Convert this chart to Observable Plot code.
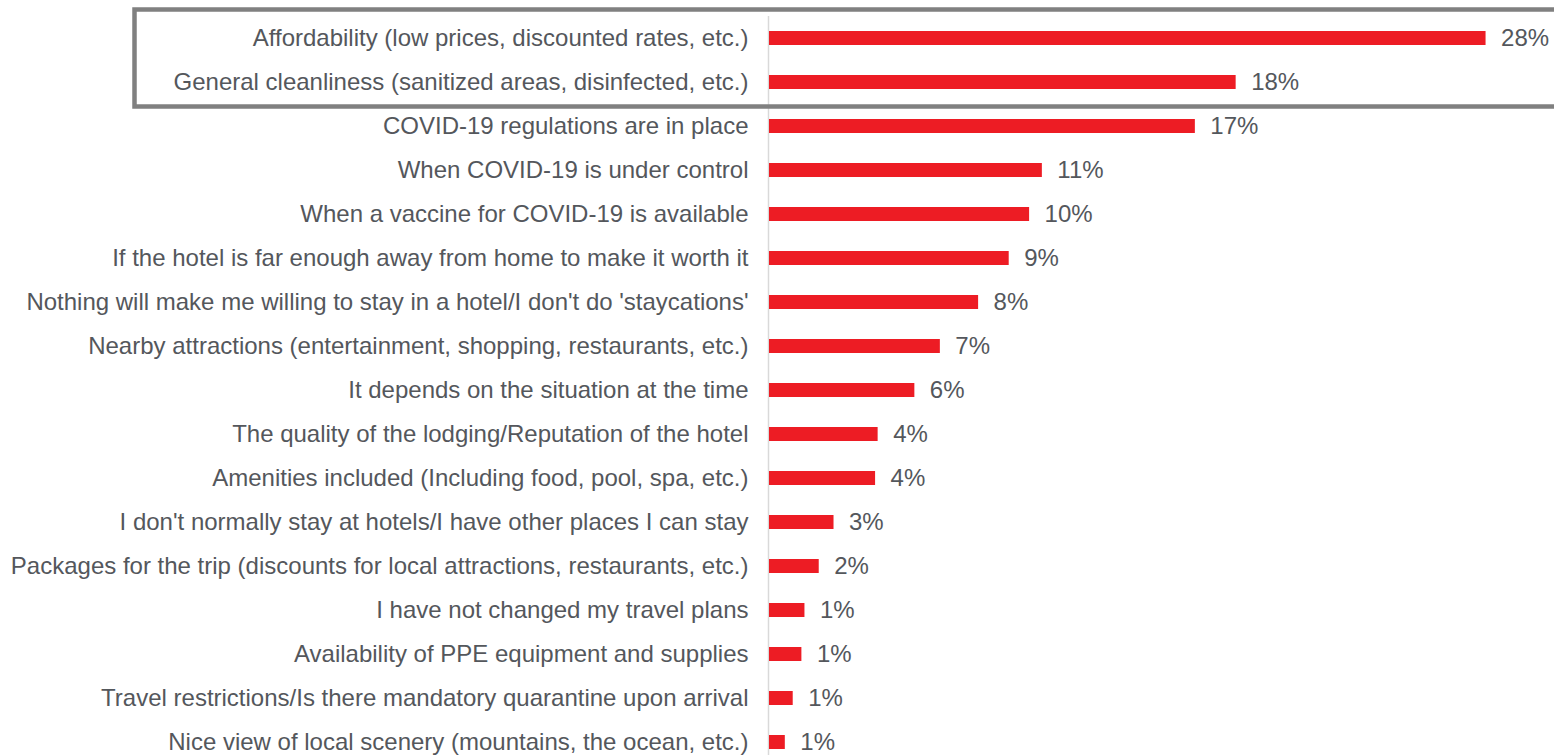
<!DOCTYPE html>
<html>
<head>
<meta charset="utf-8">
<script src="https://cdn.jsdelivr.net/npm/d3@7"></script>
<script src="https://cdn.jsdelivr.net/npm/@observablehq/plot@0.6"></script>
<style>
  html, body { margin: 0; padding: 0; background: #ffffff; }
  #chart { width: 1554px; height: 755px; overflow: hidden; }
  svg { display: block; }
</style>
</head>
<body>
<div id="chart"></div>
<script>
// Categories (top to bottom)
const categories = [
  "Affordability (low prices, discounted rates, etc.)",
  "General cleanliness (sanitized areas, disinfected, etc.)",
  "COVID-19 regulations are in place",
  "When COVID-19 is under control",
  "When a vaccine for COVID-19 is available",
  "If the hotel is far enough away from home to make it worth it",
  "Nothing will make me willing to stay in a hotel/I don't do 'staycations'",
  "Nearby attractions (entertainment, shopping, restaurants, etc.)",
  "It depends on the situation at the time",
  "The quality of the lodging/Reputation of the hotel",
  "Amenities included (Including food, pool, spa, etc.)",
  "I don't normally stay at hotels/I have other places I can stay",
  "Packages for the trip (discounts for local attractions, restaurants, etc.)",
  "I have not changed my travel plans",
  "Availability of PPE equipment and supplies",
  "Travel restrictions/Is there mandatory quarantine upon arrival",
  "Nice view of local scenery (mountains, the ocean, etc.)"
];
// Bar values (percent)
const values = [28.1, 18.3, 16.7, 10.7, 10.2, 9.4, 8.2, 6.7, 5.7, 4.26, 4.16, 2.53, 1.95, 1.39, 1.27, 0.93, 0.62];
// Printed labels
const valueLabels = ["28%", "18%", "17%", "11%", "10%", "9%", "8%", "7%", "6%", "4%", "4%", "3%", "2%", "1%", "1%", "1%", "1%"];
// Highlighted categories (boxed)
const highlighted = [categories[0], categories[1]];

const data = categories.map((c, i) => ({category: c, value: values[i], label: valueLabels[i]}));

const textColor = "#54575c";
const barColor = "#ed1c24";
const fontSize = 24;

const chart = Plot.plot({
  width: 1554,
  height: 755,
  marginLeft: 769,
  marginRight: 20,
  marginTop: 16,
  marginBottom: 0,
  style: {fontFamily: "'Liberation Sans', Arial, sans-serif", fontSize: fontSize + "px", color: textColor, background: "#ffffff"},
  x: {domain: [0, 30], axis: null},
  y: {domain: categories, range: [16, 764], paddingInner: 0.68, paddingOuter: 0.34, axis: null},
  marks: [
    Plot.ruleX([0], {stroke: "#d9d9d9", strokeWidth: 1.5, dx: -1}),
    Plot.barX(data, {x: "value", y: "category", fill: barColor}),
    Plot.text(data, {x: "value", y: "category", text: "label", dx: 15, textAnchor: "start", fill: textColor, fontSize: fontSize}),
    Plot.axisY({tickSize: 0, tickPadding: 21, label: null, fontSize: fontSize, fill: textColor, anchor: "left"})
  ]
});

document.getElementById("chart").appendChild(chart);

// Highlight box around the top two categories, positioned with the chart's scales
const yS = chart.scale("y");
const bw = yS.bandwidth;
const boxTop = yS.apply(highlighted[0]) + bw / 2 - 28.5;
const boxBottom = yS.apply(highlighted[1]) + bw / 2 + 24.5;
d3.select(chart).append("rect")
  .attr("x", 134.5)
  .attr("y", boxTop)
  .attr("width", 1554 - 134.5 + 20)
  .attr("height", boxBottom - boxTop)
  .attr("fill", "none")
  .attr("stroke", "#808080")
  .attr("stroke-width", 4.5);
</script>
</body>
</html>
